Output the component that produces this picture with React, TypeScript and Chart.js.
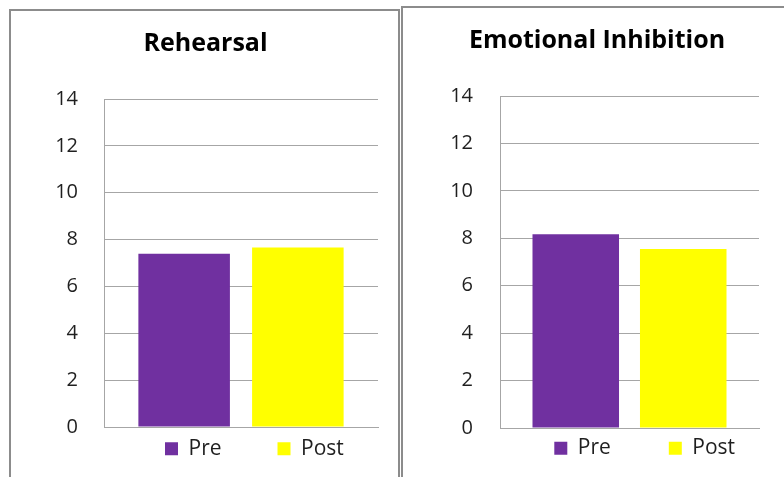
import React, { useEffect, useRef } from 'react';
import { Chart, registerables } from 'chart.js';

Chart.register(...registerables);

// ---- data ----
const SERIES = ['Pre', 'Post'];
const SERIES_COLORS = ['#7030A0', '#FFFF00'];
const Y_TICKS = [0, 2, 4, 6, 8, 10, 12, 14];
const TITLES = ['Rehearsal', 'Emotional Inhibition'];
const REHEARSAL_VALUES = [7.4, 7.66];
const EMOTIONAL_VALUES = [8.17, 7.55];

// ---- styling / layout ----
const FONT = 'Open Sans';
const GRID = '#a6a6a6';
const PANEL_BORDER = '#8c8c8c';

type PanelLayout = {
  canvasLeft: number;
  canvasTop: number;
  width: number;
  height: number;
  yAxisWidth: number;
  padRight: number;
  tickPad: number;
  legendPad: number;
  legendDx: number;
  legendDy: number;
  titleDx: number;
};

const LEFT_LAYOUT: PanelLayout = {
  canvasLeft: 12,
  canvasTop: 11,
  width: 386,
  height: 503,
  yAxisWidth: 92,
  padRight: 20,
  tickPad: 26,
  legendPad: 56,
  legendDx: 97,
  legendDy: -44.7,
  titleDx: 10.5,
};

const RIGHT_LAYOUT: PanelLayout = {
  canvasLeft: 404,
  canvasTop: 8,
  width: 380,
  height: 509,
  yAxisWidth: 96,
  padRight: 25,
  tickPad: 27,
  legendPad: 58,
  legendDx: 92.3,
  legendDy: -48.3,
  titleDx: 15.5,
};

function makeShiftPlugin(l: PanelLayout) {
  return {
    id: 'boxShift',
    afterLayout(chart: any) {
      const t = chart.titleBlock;
      if (t) {
        t.left += l.titleDx;
        t.right += l.titleDx;
      }
      const lg = chart.legend;
      if (lg) {
        lg.left += l.legendDx;
        lg.right += l.legendDx;
        lg.top += l.legendDy;
        lg.bottom += l.legendDy;
      }
    },
  };
}

function Panel({ title, values, layout }: { title: string; values: number[]; layout: PanelLayout }) {
  const ref = useRef<HTMLCanvasElement | null>(null);
  useEffect(() => {
    if (!ref.current) return;
    const chart = new Chart(ref.current, {
      type: 'bar',
      data: {
        labels: [''],
        datasets: SERIES.map((s, i) => ({
          label: s,
          data: [values[i]],
          backgroundColor: SERIES_COLORS[i],
          borderWidth: 0,
          categoryPercentage: 0.83,
          barPercentage: 0.805,
        })),
      },
      options: {
        responsive: false,
        animation: false,
        devicePixelRatio: 1,
        layout: { padding: { left: 0, right: layout.padRight, top: 0, bottom: 0 } },
        scales: {
          x: {
            grid: { display: false },
            border: { display: true, color: GRID, width: 1 },
            ticks: { display: false },
            afterFit: (s: any) => {
              s.height = 0;
            },
          },
          y: {
            min: Y_TICKS[0],
            max: Y_TICKS[Y_TICKS.length - 1],
            ticks: {
              stepSize: Y_TICKS[1] - Y_TICKS[0],
              padding: layout.tickPad,
              font: { family: FONT, size: 20 },
              color: '#1f1f1f',
            },
            grid: { color: GRID, drawTicks: false, lineWidth: 1 },
            border: { display: true, color: GRID, width: 1 },
            afterFit: (s: any) => {
              s.width = layout.yAxisWidth;
            },
          },
        },
        plugins: {
          title: {
            display: true,
            text: title,
            color: '#000',
            font: { family: FONT, size: 25, weight: 'bold', lineHeight: 1.2 },
            padding: { top: 18, bottom: 40 },
          },
          legend: {
            position: 'bottom',
            align: 'start',
            labels: {
              boxWidth: 13,
              boxHeight: 13,
              padding: layout.legendPad,
              color: '#1f1f1f',
              font: { family: FONT, size: 21 },
            },
          },
          tooltip: { enabled: false },
        },
      } as any,
      plugins: [makeShiftPlugin(layout)],
    });
    return () => chart.destroy();
  }, [title, values, layout]);

  return (
    <canvas
      ref={ref}
      width={layout.width}
      height={layout.height}
      style={{
        position: 'absolute',
        left: layout.canvasLeft,
        top: layout.canvasTop,
        width: layout.width,
        height: layout.height,
      }}
    />
  );
}

export default function App() {
  return (
    <div
      style={{
        position: 'fixed',
        left: 0,
        top: 0,
        width: 784,
        height: 477,
        overflow: 'hidden',
        background: '#fff',
      }}
    >
      <div
        style={{
          position: 'absolute',
          left: 9,
          top: 9,
          width: 391,
          height: 600,
          boxSizing: 'border-box',
          border: `2px solid ${PANEL_BORDER}`,
        }}
      />
      <div
        style={{
          position: 'absolute',
          left: 401,
          top: 6,
          width: 420,
          height: 600,
          boxSizing: 'border-box',
          border: `2px solid ${PANEL_BORDER}`,
        }}
      />
      <Panel title={TITLES[0]} values={REHEARSAL_VALUES} layout={LEFT_LAYOUT} />
      <Panel title={TITLES[1]} values={EMOTIONAL_VALUES} layout={RIGHT_LAYOUT} />
    </div>
  );
}
